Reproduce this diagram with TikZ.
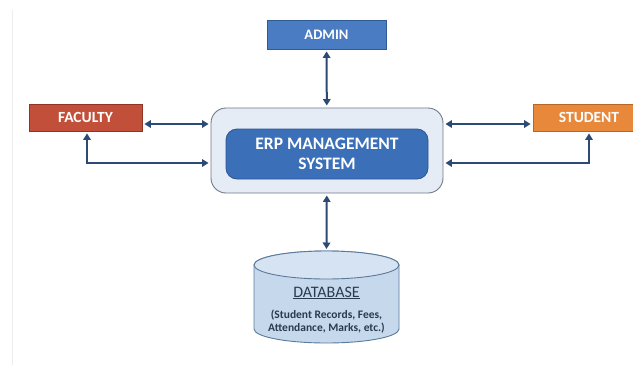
\documentclass[tikz,border=0pt]{standalone}
\usepackage{fontspec}
\setmainfont{Carlito}
\usepackage{xcolor}
\usetikzlibrary{shapes.geometric, arrows.meta, calc}

\definecolor{adminblue}{HTML}{4A7CC4}
\definecolor{adminedge}{HTML}{2F5A96}
\definecolor{facultyred}{HTML}{C14F3A}
\definecolor{facultyedge}{HTML}{8E3526}
\definecolor{studentorange}{HTML}{E8883A}
\definecolor{studentedge}{HTML}{B8652A}
\definecolor{erpfill}{HTML}{E6ECF5}
\definecolor{erpedge}{HTML}{707A88}
\definecolor{corefill}{HTML}{3B70B9}
\definecolor{coreedge}{HTML}{2B5694}
\definecolor{arrowblue}{HTML}{2C4A75}
\definecolor{dbfill}{HTML}{C5D8EC}
\definecolor{dbtop}{HTML}{D6E3F2}
\definecolor{dbedge}{HTML}{5B7A99}
\definecolor{dbtextcol}{HTML}{2B3B4E}

\begin{document}
\begin{tikzpicture}[
    x=1pt, y=-1pt,
    role/.style={
        rectangle,
        draw,
        line width=0.8pt,
        text=white,
        font=\fontsize{15.5}{15.5}\selectfont\bfseries,
        minimum height=28pt,
        inner sep=0pt
    },
    erpbox/.style={
        rectangle,
        draw=erpedge,
        fill=erpfill,
        line width=0.9pt,
        minimum width=232pt,
        minimum height=85pt,
        rounded corners=15pt
    },
    corebox/.style={
        rectangle,
        draw=coreedge,
        fill=corefill,
        line width=0.8pt,
        text=white,
        align=center,
        font=\fontsize{17.5}{19.5}\selectfont\bfseries,
        minimum width=202pt,
        minimum height=50pt,
        rounded corners=11pt
    },
    dbshape/.style={
        draw=dbedge,
        fill=dbfill,
        line width=0.9pt
    },
    dblabel/.style={
        align=center,
        text=dbtextcol,
        inner sep=0pt
    },
    arrow/.style={{Triangle[length=6.5pt,width=7.5pt]}-{Triangle[length=6.5pt,width=7.5pt]},
        line width=2pt, draw=arrowblue, shorten <=2pt, shorten >=2pt}
]
\clip (0,0) rectangle (633,365);
\fill[white] (0,0) rectangle (633,365);
\draw[black!7, line width=0.8pt] (12,10) -- (12,365);

% Admin
\node (admin) [role, fill=adminblue, draw=adminedge, minimum width=119pt, minimum height=29pt,
    font=\fontsize{14.5}{14.5}\selectfont\bfseries] at (326.5,34.5) {ADMIN};

% Faculty
\node (faculty) [role, fill=facultyred, draw=facultyedge, minimum width=113pt, minimum height=27pt] at (85.5,117.5) {FACULTY};

% Student (runs past the right edge)
\node (student) [role, fill=studentorange, draw=studentedge, minimum width=112pt, minimum height=27pt] at (589,117.5) {STUDENT};

% ERP system
\node (erp) [erpbox] at (327,150.5) {};
\node (core) [corebox] at (327,154) {ERP MANAGEMENT\\SYSTEM};

% Database (cylinder)
\path [dbshape] (254,265) -- (254,329)
    arc[start angle=180, end angle=0, x radius=72.5, y radius=14]
    -- (399,265) arc[start angle=0, end angle=-180, x radius=72.5, y radius=14] -- cycle;
\path [dbshape, fill=dbtop] (326.5,265) ellipse [x radius=72.5, y radius=14];
\coordinate (dbtop) at (326.5,251);
\node (dbtitle) [dblabel, font=\fontsize{16}{18}\selectfont] at (326.5,293) {\underline{DATABASE}};
\node (dbnote) [dblabel, font=\fontsize{11.5}{13.5}\selectfont\bfseries] at (326.5,321.5)
    {(Student Records, Fees,\\Attendance, Marks, etc.)};

% Connections
\draw [arrow] (admin) -- (erp);
\draw [arrow] (erp) -- (dbtop);
\draw [arrow] ([yshift=-6.5pt]faculty.east) -- ([yshift=-6.5pt]faculty.east -| erp.west);
\draw [arrow] ([xshift=1.5pt]faculty.south) |- ([yshift=-12.5pt]erp.west);
\draw [arrow] ([yshift=-6.5pt]student.west) -- ([yshift=-6.5pt]student.west -| erp.east);
\draw [arrow] ([yshift=-12.5pt]erp.east) -| (student.south);

\end{tikzpicture}
\end{document}
